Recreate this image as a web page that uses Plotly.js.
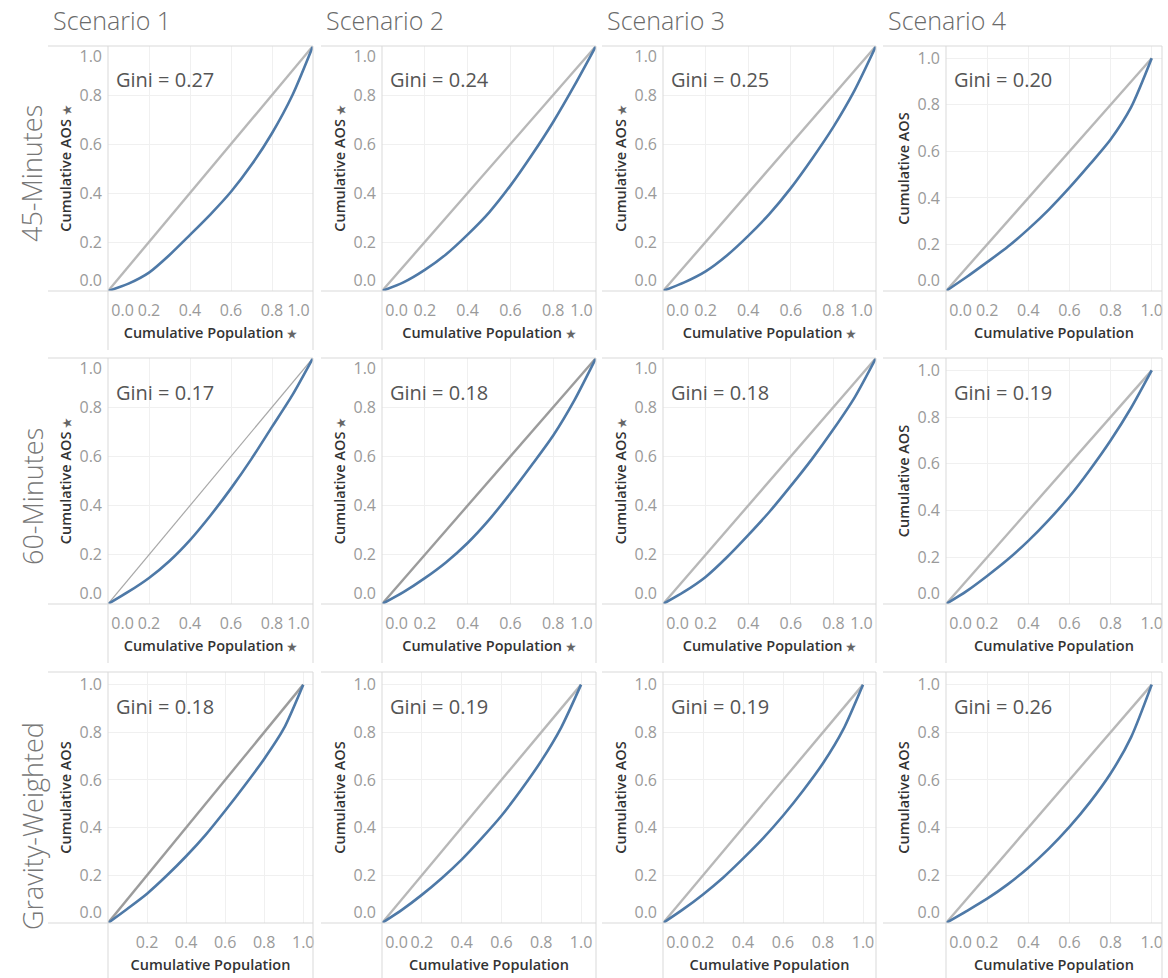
<!DOCTYPE html>
<html><head><meta charset="utf-8">
<script src="https://cdn.plot.ly/plotly-3.0.1.min.js"></script>
<style>html,body{margin:0;padding:0;background:#fff}#chart{width:1168px;height:978px}</style>
</head><body><div id="chart"></div>
<script>
// ---------------- DATA ----------------
const rowLabels = ['45-Minutes', '60-Minutes', 'Gravity-Weighted'];
const scenarioLabels = ['Scenario 1', 'Scenario 2', 'Scenario 3', 'Scenario 4'];
const cumPopulation = [0, 0.1, 0.2, 0.3, 0.4, 0.5, 0.6, 0.7, 0.8, 0.9, 1.0];

const aos45_s1 = [0, 0.03, 0.075, 0.147, 0.229, 0.313, 0.405, 0.515, 0.644, 0.80, 1.0];
const aos45_s2 = [0, 0.035, 0.086, 0.15, 0.23, 0.32, 0.43, 0.555, 0.69, 0.84, 1.0];
const aos45_s3 = [0, 0.035, 0.08, 0.145, 0.225, 0.315, 0.42, 0.54, 0.67, 0.82, 1.0];
const aos45_s4 = [0, 0.06, 0.124, 0.19, 0.266, 0.35, 0.444, 0.545, 0.651, 0.79, 1.0];

const aos60_s1 = [0, 0.05, 0.106, 0.175, 0.26, 0.36, 0.47, 0.59, 0.72, 0.85, 1.0];
const aos60_s2 = [0, 0.048, 0.105, 0.17, 0.248, 0.342, 0.45, 0.565, 0.685, 0.83, 1.0];
const aos60_s3 = [0, 0.05, 0.11, 0.19, 0.28, 0.375, 0.48, 0.59, 0.71, 0.84, 1.0];
const aos60_s4 = [0, 0.055, 0.12, 0.19, 0.27, 0.36, 0.46, 0.575, 0.70, 0.84, 1.0];

const aosGrav_s1 = [0, 0.06, 0.123, 0.198, 0.28, 0.37, 0.471, 0.577, 0.688, 0.815, 1.0];
const aosGrav_s2 = [0, 0.055, 0.118, 0.188, 0.266, 0.355, 0.45, 0.56, 0.68, 0.82, 1.0];
const aosGrav_s3 = [0, 0.057, 0.12, 0.19, 0.27, 0.355, 0.45, 0.555, 0.67, 0.81, 1.0];
const aosGrav_s4 = [0, 0.05, 0.102, 0.162, 0.232, 0.312, 0.403, 0.507, 0.627, 0.78, 1.0];

const gini45 = [0.27, 0.24, 0.25, 0.20];
const gini60 = [0.17, 0.18, 0.18, 0.19];
const giniGrav = [0.18, 0.19, 0.19, 0.26];

const equalityLine = [0, 1];
const tickValues = [0, 0.2, 0.4, 0.6, 0.8, 1.0];
const tickLabels = ['0.0', '0.2', '0.4', '0.6', '0.8', '1.0'];
const xTitle = 'Cumulative Population';
const yTitle = 'Cumulative AOS';

// ---------------- LAYOUT GEOMETRY ----------------
const W = 1168, H = 978;
const colPlot = [[108, 313], [382, 596], [663, 876], [946, 1162]];
const colPanelLeft = [48, 321, 602, 883];
const rowPlot = [[46, 291], [358, 604], [672, 923]];
const rowPanelBottom = [350, 663, 978];
const rowHeaderY = [174, 497, 826];
const pinned = [[true, true, true, false], [true, true, true, false], [false, false, false, false]];
const xMaxUnpinned = [[1, 1, 1, 1.05], [1, 1, 1, 1.05], [1.05, 1.075, 1.065, 1.05]];
const yMaxUnpinned = 1.053;
const hideZeroX = [[false, false, false, false], [false, false, false, false], [true, false, false, false]];
const diagStyles = [
  [{c: '#b8b8b8', w: 2.4}, {c: '#b8b8b8', w: 2.4}, {c: '#b8b8b8', w: 2.4}, {c: '#b8b8b8', w: 2.4}],
  [{c: '#a8a8a8', w: 1.2}, {c: '#9c9c9c', w: 2.4}, {c: '#b8b8b8', w: 2.4}, {c: '#b8b8b8', w: 2.4}],
  [{c: '#9c9c9c', w: 2.4}, {c: '#b8b8b8', w: 2.4}, {c: '#b8b8b8', w: 2.4}, {c: '#b8b8b8', w: 2.4}]
];

const series = [
  [aos45_s1, aos45_s2, aos45_s3, aos45_s4],
  [aos60_s1, aos60_s2, aos60_s3, aos60_s4],
  [aosGrav_s1, aosGrav_s2, aosGrav_s3, aosGrav_s4]
];
const ginis = [gini45, gini60, giniGrav];

const FONT = 'Open Sans, Noto Sans, sans-serif';
const NB = '\u00a0';
const PIN = ' <span style="font-size:11px;color:#666">★</span>';
const borderColor = '#d9d9d9';

const traces = [];
const layout = {
  width: W, height: H,
  margin: {l: 0, r: 0, t: 0, b: 0},
  paper_bgcolor: '#ffffff',
  plot_bgcolor: 'rgba(0,0,0,0)',
  showlegend: false,
  font: {family: FONT},
  annotations: [],
  shapes: []
};

for (let r = 0; r < 3; r++) {
  for (let c = 0; c < 4; c++) {
    const k = r * 4 + c + 1;
    const xs = k === 1 ? 'x' : 'x' + k;
    const ys = k === 1 ? 'y' : 'y' + k;
    const xa = k === 1 ? 'xaxis' : 'xaxis' + k;
    const ya = k === 1 ? 'yaxis' : 'yaxis' + k;
    const pin = pinned[r][c];
    const [x0, x1] = colPlot[c];
    const [y0, y1] = rowPlot[r];

    traces.push({
      type: 'scatter', mode: 'lines', x: equalityLine, y: equalityLine,
      xaxis: xs, yaxis: ys, hoverinfo: 'skip',
      line: {color: diagStyles[r][c].c, width: diagStyles[r][c].w}
    });
    traces.push({
      type: 'scatter', mode: 'lines', x: cumPopulation, y: series[r][c],
      xaxis: xs, yaxis: ys,
      line: {color: '#4e79a7', width: 2.6, shape: 'spline', smoothing: 0.7}
    });

    let xtv = tickValues.slice(), xtt = tickLabels.slice();
    xtt[0] = NB.repeat(7) + tickLabels[0];
    if (pin) xtt[5] = tickLabels[5] + NB.repeat(7);
    if (hideZeroX[r][c]) { xtv = xtv.slice(1); xtt = tickLabels.slice(1); }
    const ytt = tickLabels.slice();
    ytt[0] = tickLabels[0] + '<br>' + NB;
    if (pin) ytt[5] = NB + '<br>' + tickLabels[5];

    layout[xa] = {
      domain: [x0 / W, x1 / W],
      anchor: ys,
      range: pin ? [0, 1] : [0, xMaxUnpinned[r][c]],
      showgrid: true, gridcolor: '#f0f0f0', gridwidth: 1,
      zeroline: false, showline: false, ticks: '',
      tickmode: 'array', tickvals: xtv, ticktext: xtt,
      tickfont: {family: FONT, size: 16, color: '#9a9a9a'},
      ticklabelstandoff: 8,
      fixedrange: true,
      title: {text: xTitle + (pin ? PIN : ''), font: {family: FONT, size: 14.5, color: '#333', weight: 600}, standoff: 7}
    };
    layout[ya] = {
      domain: [1 - y1 / H, 1 - y0 / H],
      anchor: xs,
      range: pin ? [0, 1] : [0, yMaxUnpinned],
      showgrid: true, gridcolor: '#f0f0f0', gridwidth: 1,
      zeroline: false, showline: false, ticks: '',
      tickmode: 'array', tickvals: tickValues, ticktext: ytt,
      tickfont: {family: FONT, size: 16, color: '#9a9a9a'},
      ticklabelstandoff: 5,
      fixedrange: true,
      title: {text: yTitle + (pin ? PIN : ''), font: {family: FONT, size: 14.5, color: '#333', weight: 600}, standoff: 4}
    };

    layout.annotations.push({
      xref: xs + ' domain', yref: ys + ' domain', x: 0, y: 1,
      xanchor: 'left', yanchor: 'middle', xshift: 6, yshift: -34,
      text: 'Gini = ' + ginis[r][c].toFixed(2), showarrow: false,
      font: {family: FONT, size: 20, color: '#555'}
    });

    const pl = colPanelLeft[c], pb = rowPanelBottom[r];
    const seg = (ax, ay, bx, by) => ({
      type: 'line', xref: 'paper', yref: 'paper', layer: 'above',
      x0: ax / W, y0: 1 - ay / H, x1: bx / W, y1: 1 - by / H,
      line: {color: borderColor, width: 1}
    });
    layout.shapes.push(seg(pl, y0, x1, y0));
    layout.shapes.push(seg(pl, y1, x1, y1));
    layout.shapes.push(seg(x0, y0, x0, pb));
    layout.shapes.push(seg(x1, y0, x1, pb));
  }
}

scenarioLabels.forEach((s, c) => {
  layout.annotations.push({
    xref: 'paper', yref: 'paper', x: (colPanelLeft[c] + 3) / W, y: 1 - 20 / H,
    xanchor: 'left', yanchor: 'middle', text: s, showarrow: false,
    font: {family: FONT, size: 25, color: '#6a6a6a', weight: 300}
  });
});
rowLabels.forEach((s, r) => {
  layout.annotations.push({
    xref: 'paper', yref: 'paper', x: 32 / W, y: 1 - rowHeaderY[r] / H,
    xanchor: 'center', yanchor: 'middle', textangle: -90, text: s, showarrow: false,
    font: {family: FONT, size: 27, color: '#777', weight: 300}
  });
});

Plotly.newPlot('chart', traces, layout, {staticPlot: true, displayModeBar: false});
</script>
</body></html>
